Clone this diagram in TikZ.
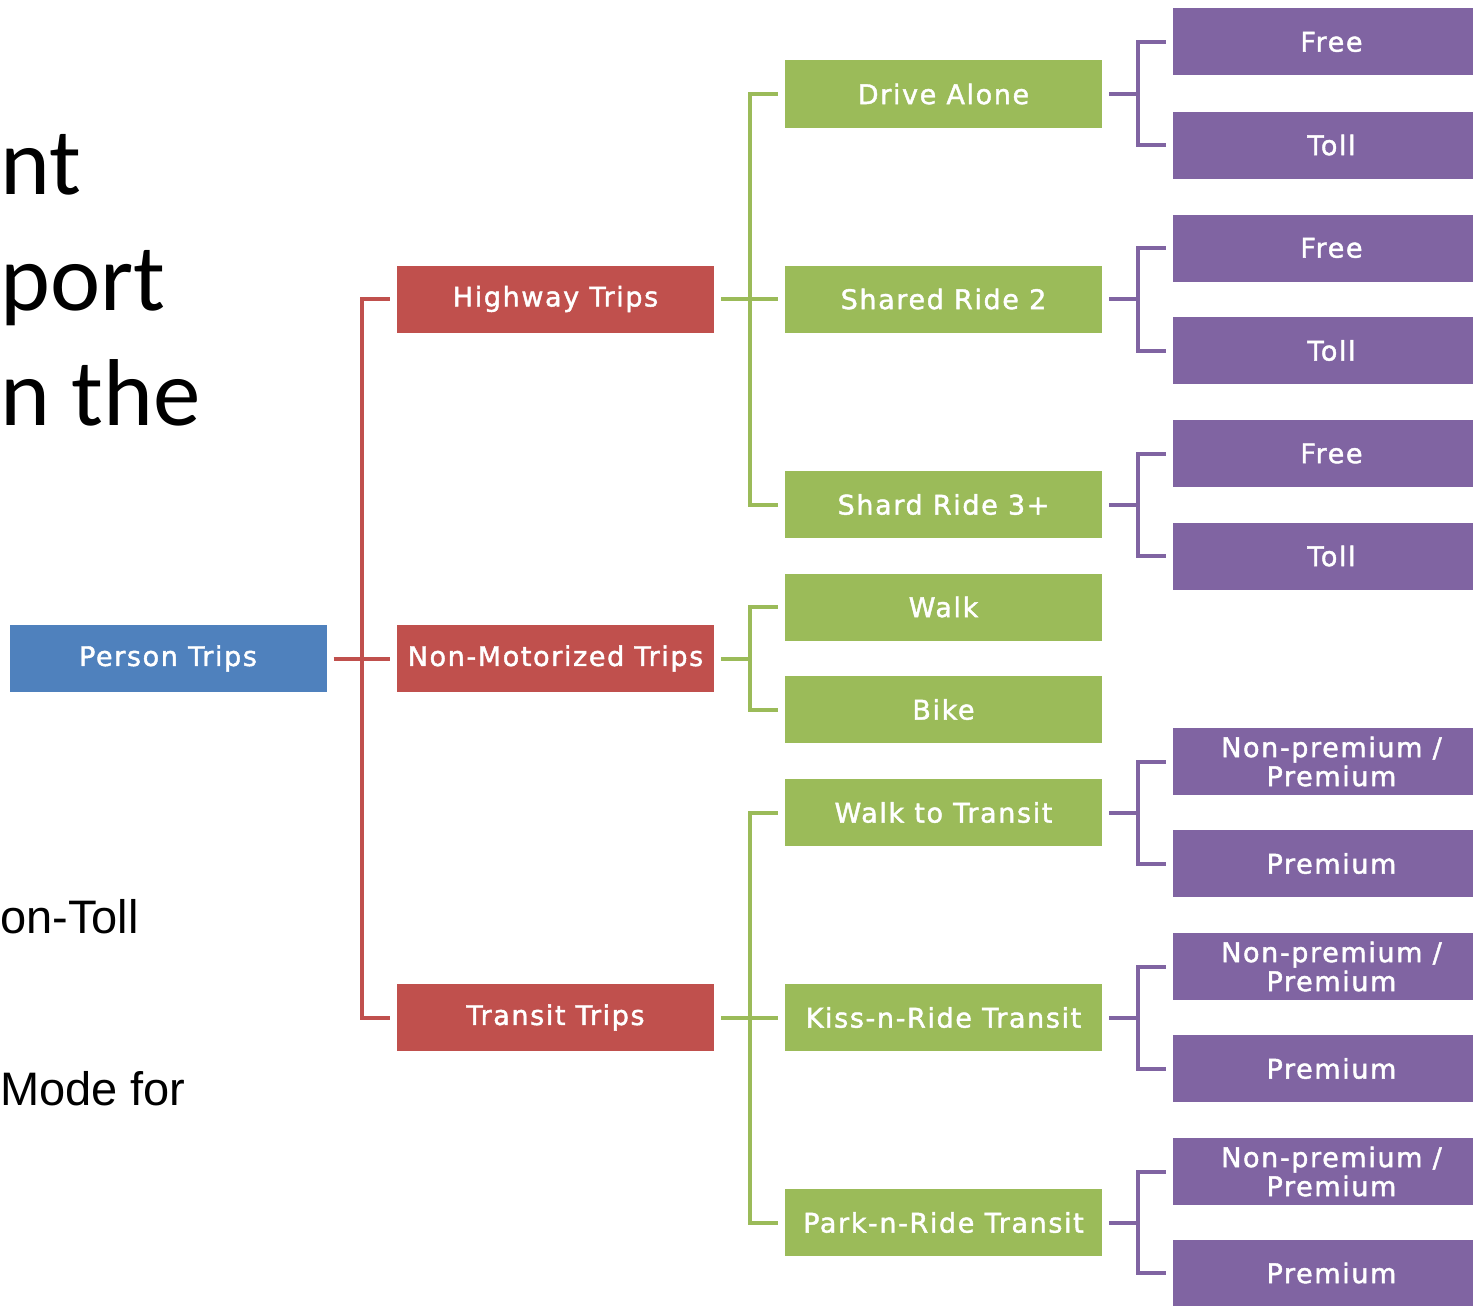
\documentclass[tikz,border=0pt]{standalone}
\usepackage{fontspec}
\setmainfont{Open Sans}
\newfontfamily\titlefont{Carlito}
\newfontfamily\bodyfont{Liberation Sans}
\newfontfamily\boxfont[LetterSpace=6, FakeBold=1.6]{DejaVu Sans}

\definecolor{cblue}{HTML}{4F81BD}
\definecolor{cred}{HTML}{C0504D}
\definecolor{cgreen}{HTML}{9BBB59}
\definecolor{cpurple}{HTML}{8064A2}

\tikzset{
  box/.style={minimum width=317pt, minimum height=67pt, inner sep=0pt,
    text=white, align=center, font=\boxfont\fontsize{27}{29}\selectfont},
  bluebox/.style={box, fill=cblue},
  redbox/.style={box, fill=cred},
  greenbox/.style={box, fill=cgreen},
  purplebox/.style={box, fill=cpurple},
  link/.style={line width=4pt, line join=miter},
  redlink/.style={link, draw=cred},
  greenlink/.style={link, draw=cgreen},
  purplelink/.style={link, draw=cpurple},
  slidetext/.style={anchor=base west, inner sep=0pt, text=black}
}

\begin{document}
\begin{tikzpicture}[x=1pt, y=-1pt]
\useasboundingbox (0,0) rectangle (1473,1306);
\clip (0,0) rectangle (1473,1306);

% slide text beside the tree
\node[slidetext, font=\titlefont\fontsize{95}{116}\selectfont] (l1) at (0,194) {nt};
\node[slidetext, font=\titlefont\fontsize{95}{116}\selectfont] (l2) at (0,310) {port};
\node[slidetext, font=\titlefont\fontsize{95}{116}\selectfont] (l3) at (0,425) {n the};
\node[slidetext, font=\bodyfont\fontsize{47}{56}\selectfont] (l4) at (0,933) {on-Toll};
\node[slidetext, font=\bodyfont\fontsize{47}{56}\selectfont] (l5) at (0,1105) {Mode for};

% root
\node[bluebox] (pt) at (168,658.5) {Person Trips};

% first level
\node[redbox] (hw) at (555.5,299) {Highway Trips};
\node[redbox] (nm) at (555.5,658.5) {Non-Motorized Trips};
\node[redbox] (tt) at (555.5,1017.5) {Transit Trips};

% second level
\node[greenbox] (da)  at (943.5,94)    {Drive Alone};
\node[greenbox] (sr2) at (943.5,299)   {Shared Ride 2};
\node[greenbox] (sr3) at (943.5,504.5) {Shard Ride 3+};
\node[greenbox] (wk)  at (943.5,607)   {Walk};
\node[greenbox] (bk)  at (943.5,709.5) {Bike};
\node[greenbox] (wt)  at (943.5,812.5) {Walk to Transit};
\node[greenbox] (kr)  at (943.5,1017.5){Kiss-n-Ride Transit};
\node[greenbox] (pr)  at (943.5,1222.5){Park-n-Ride Transit};

% third level
\node[purplebox] (da1)  at (1331.5,42)   {Free};
\node[purplebox] (da2)  at (1331.5,145)  {Toll};
\node[purplebox] (sr21) at (1331.5,248)  {Free};
\node[purplebox] (sr22) at (1331.5,350.5){Toll};
\node[purplebox] (sr31) at (1331.5,453.5){Free};
\node[purplebox] (sr32) at (1331.5,556)  {Toll};
\node[purplebox] (wt1)  at (1331.5,761.5){Non-premium /\\Premium};
\node[purplebox] (wt2)  at (1331.5,863.5){Premium};
\node[purplebox] (kr1)  at (1331.5,966.5){Non-premium /\\Premium};
\node[purplebox] (kr2)  at (1331.5,1068.5){Premium};
\node[purplebox] (pr1)  at (1331.5,1171.5){Non-premium /\\Premium};
\node[purplebox] (pr2)  at (1331.5,1273){Premium};

% root to first level
\coordinate (rbar) at (362,658.5);
\draw[redlink] ([xshift=7pt]pt.east) -- ([xshift=-7pt]nm.west);
\draw[redlink] ([xshift=-7pt]hw.west) -| (rbar) |- ([xshift=-7pt]tt.west);

% first level to second level
\coordinate (gbar1) at (750,299);
\draw[greenlink] ([xshift=7pt]hw.east) -- ([xshift=-7pt]sr2.west);
\draw[greenlink] ([xshift=-7pt]da.west) -| (gbar1) |- ([xshift=-7pt]sr3.west);
\coordinate (gbar2) at (750,658.5);
\draw[greenlink] ([xshift=7pt]nm.east) -- (gbar2);
\draw[greenlink] ([xshift=-7pt]wk.west) -| (gbar2) |- ([xshift=-7pt]bk.west);
\coordinate (gbar3) at (750,1017.5);
\draw[greenlink] ([xshift=7pt]tt.east) -- ([xshift=-7pt]kr.west);
\draw[greenlink] ([xshift=-7pt]wt.west) -| (gbar3) |- ([xshift=-7pt]pr.west);

% second level to third level
\foreach \p/\a/\b in {da/da1/da2, sr2/sr21/sr22, sr3/sr31/sr32,
                      wt/wt1/wt2, kr/kr1/kr2, pr/pr1/pr2}{
  \coordinate (\p bar) at ([xshift=36pt]\p.east);
  \draw[purplelink] ([xshift=7pt]\p.east) -- (\p bar);
  \draw[purplelink] ([xshift=-7pt]\a.west) -| (\p bar) |- ([xshift=-7pt]\b.west);
}
\end{tikzpicture}
\end{document}
